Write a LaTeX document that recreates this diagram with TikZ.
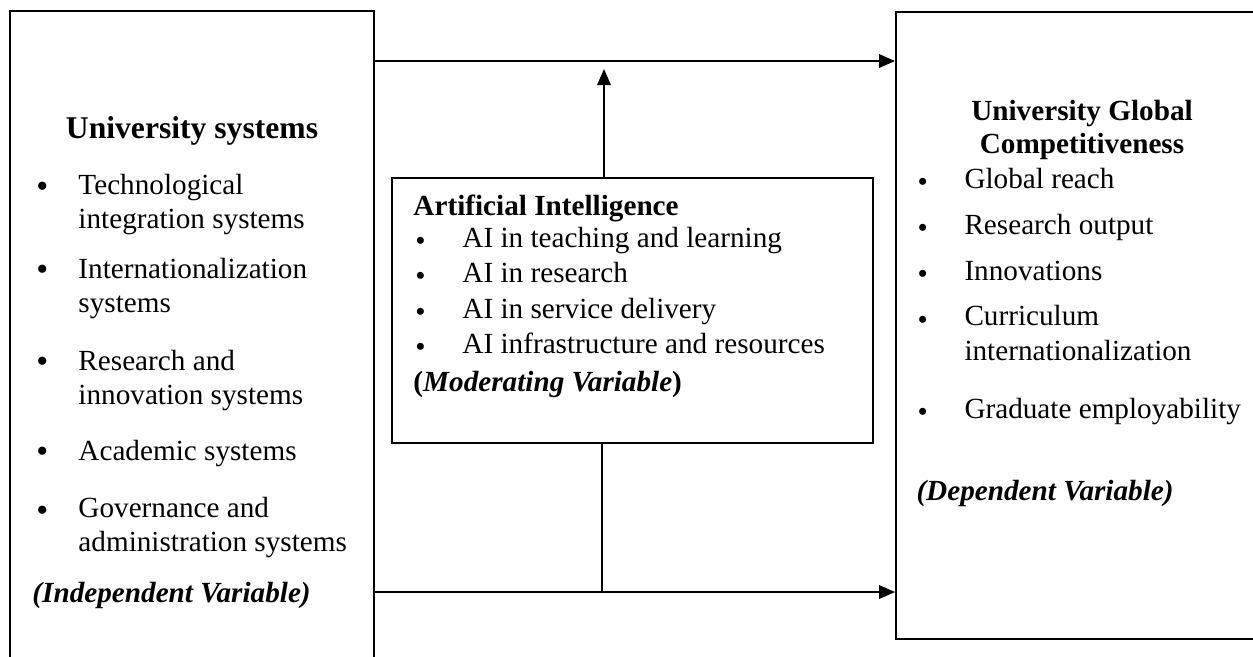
\documentclass[tikz,border=0pt]{standalone}
\usepackage{fontspec}
\setmainfont{Liberation Serif}
\usetikzlibrary{arrows.meta}
\tikzstyle{box} = [draw, line width=0.8pt, inner sep=0pt]
\tikzstyle{txt} = [anchor=base west, inner sep=0pt, align=left, font=\fontsize{12}{13.8}\selectfont]
\tikzstyle{dot} = [anchor=base west, inner sep=0pt, font=\fontsize{14}{14}\selectfont]
\tikzstyle{sdot} = [anchor=base west, inner sep=0pt, font=\fontsize{12}{12}\selectfont]
\tikzstyle{head} = [anchor=base, inner sep=0pt, align=center, font=\fontsize{12}{13.2}\selectfont\bfseries]
\tikzstyle{arr} = [line width=0.6pt, -{Triangle[length=6.6pt,width=5.6pt]}]

\begin{document}
\begin{tikzpicture}[x=0.411pt,y=-0.411pt]
                \useasboundingbox (0,0) rectangle (1253,656);
                \clip (0,0) rectangle (1253,656);
                \node [box, minimum width=149.6pt, minimum height=275pt] (usys) at (192,345.5) {};
                \node [box, minimum width=153.7pt, minimum height=257.7pt] (ugc) at (1083,325.5) {};
                \node [box, minimum width=197.7pt, minimum height=108.9pt] (ai) at (632.5,310.5) {};
                \coordinate (top) at (0,61);
                \coordinate (bot) at (0,592);
                \coordinate (aiup) at (604,0);
                \coordinate (aidn) at (602,0);
                \node [head, font=\fontsize{13}{14}\selectfont\bfseries] (usysh) at (192,138) {University systems};
                \node [dot] (u1d) at (36,197) {•};
                \node [txt] (u1) at (78,228) {Technological\\integration systems};
                \node [dot] (u2d) at (36,280) {•};
                \node [txt] (u2) at (78,312) {Internationalization\\systems};
                \node [dot] (u3d) at (36,372) {•};
                \node [txt] (u3) at (78,404) {Research and\\innovation systems};
                \node [dot] (u4d) at (36,462) {•};
                \node [txt] (u4) at (78,460) {Academic systems};
                \node [dot] (u5d) at (36,521) {•};
                \node [txt] (u5) at (78,551) {Governance and\\administration systems};
                \node [txt, font=\fontsize{12}{13.8}\selectfont\bfseries\itshape] (usysv) at (32,602) {(Independent Variable)};
                \node [txt, font=\fontsize{12}{13.8}\selectfont\bfseries] (aih) at (413,215) {Artificial Intelligence};
                \node [sdot] (a1d) at (415,250) {•};
                \node [txt] (a1) at (462,247) {AI in teaching and learning};
                \node [sdot] (a2d) at (415,285) {•};
                \node [txt] (a2) at (462,282) {AI in research};
                \node [sdot] (a3d) at (415,321) {•};
                \node [txt] (a3) at (462,318) {AI in service delivery};
                \node [sdot] (a4d) at (415,356) {•};
                \node [txt] (a4) at (462,353) {AI infrastructure and resources};
                \node [txt, font=\fontsize{12}{13.8}\selectfont\bfseries] (aiv) at (413,391) {(\textit{Moderating Variable})};
                \node [head] (ugch) at (1082,153) {University Global\\Competitiveness};
                \node [sdot] (g1d) at (917,191) {•};
                \node [txt] (g1) at (964,188) {Global reach};
                \node [sdot] (g2d) at (917,237) {•};
                \node [txt] (g2) at (964,234) {Research output};
                \node [sdot] (g3d) at (917,283) {•};
                \node [txt] (g3) at (964,280) {Innovations};
                \node [sdot] (g4d) at (917,329) {•};
                \node [txt, font=\fontsize{12}{14}\selectfont] (g4) at (964,360) {Curriculum\\internationalization};
                \node [sdot] (g5d) at (917,421) {•};
                \node [txt] (g5) at (964,418) {Graduate employability};
                \node [txt, font=\fontsize{12}{13.8}\selectfont\bfseries\itshape] (ugcv) at (916,500) {(Dependent Variable)};
                \draw [arr] (usys.east |- top) -- (ugc.west |- top);
                \draw [arr] (usys.east |- bot) -- (ugc.west |- bot);
                \draw [arr, shorten >=3.3pt] (ai.north -| aiup) -- (top -| aiup);
                \draw [line width=0.6pt] (ai.south -| aidn) -- (bot -| aidn);
            \end{tikzpicture}
\end{document}
